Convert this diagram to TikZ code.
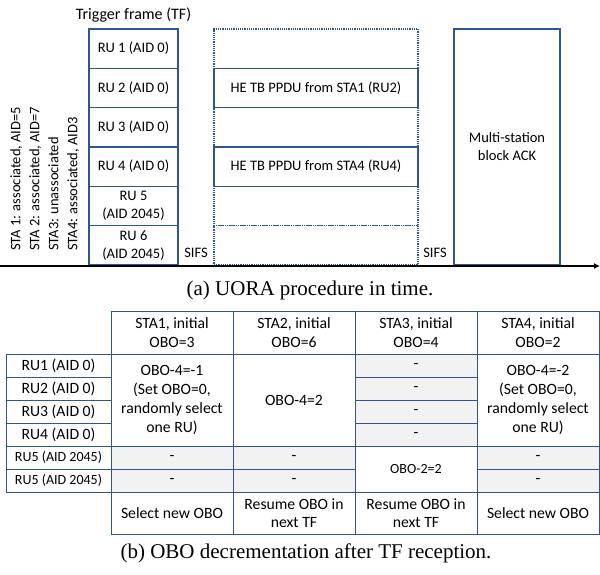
\documentclass[tikz,border=0pt]{standalone}
\usepackage{fontspec}
\setmainfont{Carlito}
\newfontfamily\capfont{Liberation Serif}
\usepackage{tikz}
\usetikzlibrary{positioning, arrows.meta}
\definecolor{boxblue}{RGB}{47,85,151}
\definecolor{cellgray}{RGB}{242,242,242}
\tikzset{
	tfbox/.style={draw=boxblue, line width=1.3pt, align=center, inner sep=0pt, font=\fontsize{14.5}{18}\selectfont}
}
\tikzset{
	dotbox/.style={draw=boxblue, line width=1.2pt, densely dotted, inner sep=0pt}
}
\tikzset{
	cell/.style={draw=boxblue, line width=1pt, align=center, inner sep=0pt, font=\fontsize{15.7}{18.7}\selectfont},
	graycell/.style={cell, fill=cellgray},
	smallcell/.style={cell, font=\fontsize{14}{17}\selectfont},
	lab/.style={inner sep=0pt, font=\fontsize{14.5}{19}\selectfont},
	capt/.style={inner sep=0pt, font=\capfont\fontsize{21}{25}\selectfont}
}

\begin{document}
\begin{tikzpicture}[x=1pt, y=-1pt]
  \useasboundingbox (0,0) rectangle (600,574);
  % trigger frame
  \foreach \t [count=\k] in {RU 1 (AID 0), RU 2 (AID 0), RU 3 (AID 0), RU 4 (AID 0), {RU 5\\(AID 2045)}, {RU 6\\(AID 2045)}}
    \node[tfbox, minimum width=89pt, minimum height=39.33pt] (ru\k) at (133.5, {29+39.33*(\k-0.5)}) {\t};
  \node[lab, font=\fontsize{16}{19}\selectfont, above=6pt of ru1] (tftitle) {Trigger frame (TF)};
  \node[lab, rotate=90, anchor=north west, align=left] (stalist) at (10,251)
    {STA 1: associated, AID=5\\STA 2: associated, AID=7\\STA3: unassociated\\STA4: associated, AID3};
  % uplink
  \foreach \k in {1,3,5,6}
    \node[dotbox, minimum width=204pt, minimum height=39.33pt] (idle\k) at (316, {29+39.33*(\k-0.5)}) {};
  \node[tfbox, minimum width=204pt, minimum height=39.33pt] (ppdu1) at (316, {29+39.33*1.5}) {HE TB PPDU from STA1 (RU2)};
  \node[tfbox, minimum width=204pt, minimum height=39.33pt] (ppdu4) at (316, {29+39.33*3.5}) {HE TB PPDU from STA4 (RU4)};
  \node[tfbox, minimum width=106pt, minimum height=236pt] (ack) at (507,147) {Multi-station\\block ACK};
  \node[lab] (sifs1) at (196,253) {SIFS};
  \node[lab] (sifs2) at (435,253) {SIFS};
  % time axis
  \coordinate (t0) at (0,266);
  \coordinate (t1) at (600,266);
  \draw[line width=1.8pt, -{Latex[length=6pt, width=6pt]}] (t0) -- (t1);
  \node[capt] (capa) at (310,290) {(a) UORA procedure in time.};

  % OBO table: header
  \foreach \t [count=\k] in {{STA1, initial\\OBO=3}, {STA2, initial\\OBO=6}, {STA3, initial\\OBO=4}, {STA4, initial\\OBO=2}}
    \node[cell, minimum width=122pt, minimum height=43pt] (head\k) at ({172+122*(\k-1)}, 332.5) {\t};
  % row labels
  \foreach \t [count=\k] in {RU1 (AID 0), RU2 (AID 0), RU3 (AID 0), RU4 (AID 0)}
    \node[cell, minimum width=105pt, minimum height=23pt] (row\k) at (58.5, {354+23*(\k-0.5)}) {\t};
  \foreach \k in {5,6}
    \node[smallcell, minimum width=105pt, minimum height=23pt] (row\k) at (58.5, {354+23*(\k-0.5)}) {RU5 (AID 2045)};
  % cells
  \node[cell, minimum width=122pt, minimum height=92pt] (s1obo) at (172,400) {OBO-4=-1\\(Set OBO=0,\\randomly select\\one RU)};
  \node[cell, minimum width=122pt, minimum height=92pt] (s2obo) at (294,400) {OBO-4=2};
  \foreach \k in {1,...,4}
    \node[graycell, minimum width=122pt, minimum height=23pt] (s3ru\k) at (416, {354+23*(\k-0.5)}) {-};
  \node[cell, minimum width=122pt, minimum height=92pt] (s4obo) at (538,400) {OBO-4=-2\\(Set OBO=0,\\randomly select\\one RU)};
  \foreach \k in {5,6} {
    \node[graycell, minimum width=122pt, minimum height=23pt] (s1ru\k) at (172, {354+23*(\k-0.5)}) {-};
    \node[graycell, minimum width=122pt, minimum height=23pt] (s2ru\k) at (294, {354+23*(\k-0.5)}) {-};
    \node[graycell, minimum width=122pt, minimum height=23pt] (s4ru\k) at (538, {354+23*(\k-0.5)}) {-};
  }
  \node[smallcell, minimum width=122pt, minimum height=46pt] (s3obo) at (416,469) {OBO-2=2};
  % after TF
  \foreach \t [count=\k] in {Select new OBO, {Resume OBO in\\next TF}, {Resume OBO in\\next TF}, Select new OBO}
    \node[cell, minimum width=122pt, minimum height=42pt] (next\k) at ({172+122*(\k-1)}, 513) {\t};
  \node[capt] (capb) at (306,553) {(b) OBO decrementation after TF reception.};
\end{tikzpicture}
\end{document}
